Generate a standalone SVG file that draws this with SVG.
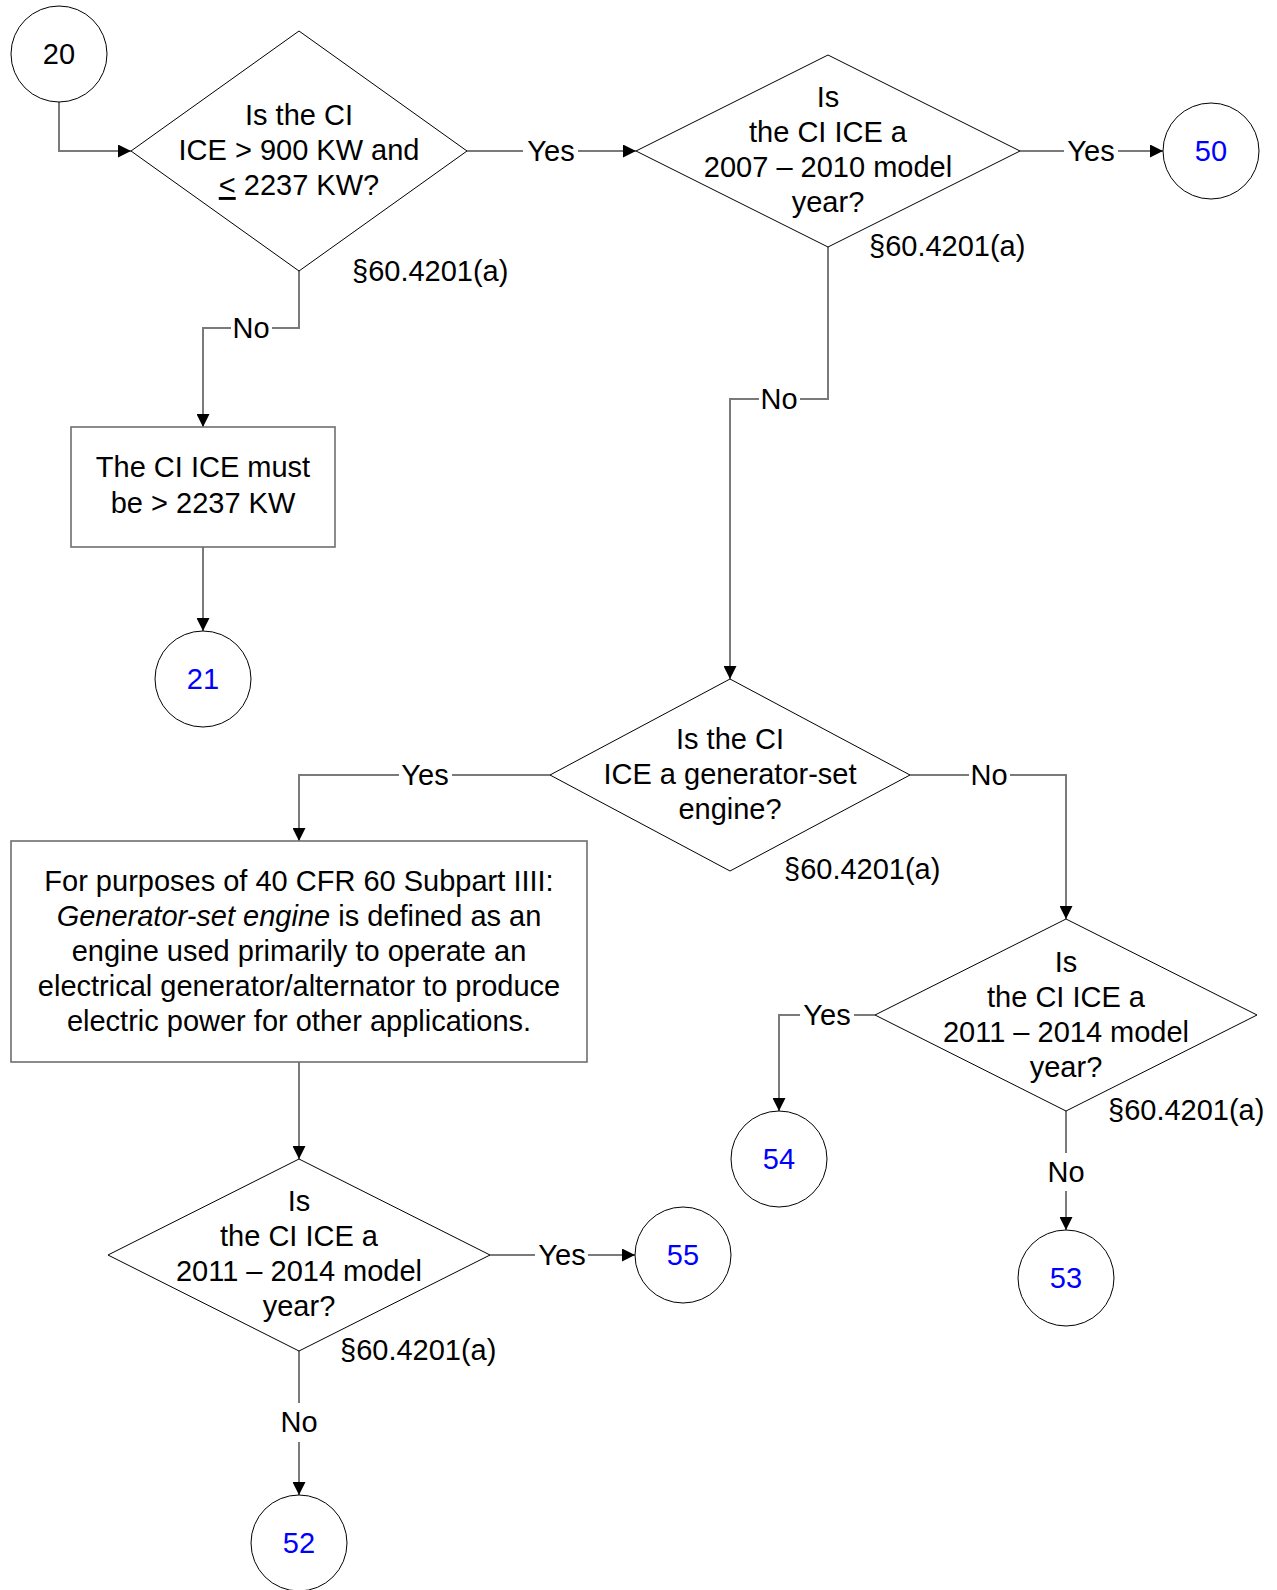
<svg xmlns="http://www.w3.org/2000/svg" width="1277" height="1590" viewBox="0 0 1277 1590">
<defs>
<style>
text{font-family:"Liberation Sans",Arial,sans-serif;font-size:29px;fill:#000;text-anchor:middle}
.ref{text-anchor:start}
.blue{fill:#0000ff}
.dia{fill:#fff;stroke:#000;stroke-width:1}
.box{fill:#fff;stroke:#6e6e6e;stroke-width:1.6}
.circ{fill:#fff;stroke:#000;stroke-width:1}
.con{fill:none;stroke:#7a7a7a;stroke-width:2}
</style>
<marker id="ah" markerUnits="userSpaceOnUse" markerWidth="14" markerHeight="13" refX="13" refY="6.5" orient="auto">
<path d="M0,0 L13,6.5 L0,13 z" fill="#000"/>
</marker>
</defs>
<rect width="1277" height="1590" fill="#fff"/>
<g id="connectors">
<path class="con" d="M59,102 V151 H131" marker-end="url(#ah)"/>
<path class="con" d="M467,151 H523"/>
<path class="con" d="M578,151 H636" marker-end="url(#ah)"/>
<text x="551" y="161">Yes</text>
<path class="con" d="M1020,151 H1064"/>
<path class="con" d="M1118,151 H1163" marker-end="url(#ah)"/>
<text x="1091" y="161">Yes</text>
<path class="con" d="M299,271 V328 H272"/>
<path class="con" d="M231,328 H203 V427" marker-end="url(#ah)"/>
<text x="251" y="338">No</text>
<path class="con" d="M203,547 V631" marker-end="url(#ah)"/>
<path class="con" d="M828,247 V399 H800"/>
<path class="con" d="M759,399 H730 V679" marker-end="url(#ah)"/>
<text x="779" y="409">No</text>
<path class="con" d="M550,775 H452"/>
<path class="con" d="M399,775 H299 V841" marker-end="url(#ah)"/>
<text x="425" y="785">Yes</text>
<path class="con" d="M910,775 H969"/>
<path class="con" d="M1010,775 H1066 V919" marker-end="url(#ah)"/>
<text x="989" y="785">No</text>
<path class="con" d="M875,1015 H854"/>
<path class="con" d="M800,1015 H779 V1111" marker-end="url(#ah)"/>
<text x="827" y="1025">Yes</text>
<path class="con" d="M1066,1111 V1153"/>
<path class="con" d="M1066,1191 V1230" marker-end="url(#ah)"/>
<text x="1066" y="1182">No</text>
<path class="con" d="M299,1062 V1159" marker-end="url(#ah)"/>
<path class="con" d="M490,1255 H535"/>
<path class="con" d="M588,1255 H635" marker-end="url(#ah)"/>
<text x="562" y="1265">Yes</text>
<path class="con" d="M299,1351 V1403"/>
<path class="con" d="M299,1442 V1495" marker-end="url(#ah)"/>
<text x="299" y="1432">No</text>
</g>
<g id="n20">
<circle class="circ" cx="59" cy="54" r="48"/>
<text x="59" y="64">20</text>
</g>
<g id="d1">
<polygon class="dia" points="299,31 467,151 299,271 131,151"/>
<text x="299" y="125">Is the CI</text>
<text x="299" y="160">ICE &gt; 900 KW and</text>
<text x="299" y="195"><tspan text-decoration="underline">&lt;</tspan> 2237 KW?</text>
<text class="ref" x="352" y="281">§60.4201(a)</text>
</g>
<g id="d2">
<polygon class="dia" points="828,55 1020,151 828,247 636,151"/>
<text x="828" y="107">Is</text>
<text x="828" y="142">the CI ICE a</text>
<text x="828" y="177">2007 – 2010 model</text>
<text x="828" y="212">year?</text>
<text class="ref" x="869" y="256">§60.4201(a)</text>
</g>
<g id="n50">
<circle class="circ" cx="1211" cy="151" r="48"/>
<text class="blue" x="1211" y="161">50</text>
</g>
<g id="b1">
<rect class="box" x="71" y="427" width="264" height="120"/>
<text x="203" y="477">The CI ICE must</text>
<text x="203" y="513">be &gt; 2237 KW</text>
</g>
<g id="n21">
<circle class="circ" cx="203" cy="679" r="48"/>
<text class="blue" x="203" y="689">21</text>
</g>
<g id="d3">
<polygon class="dia" points="730,679 910,775 730,871 550,775"/>
<text x="730" y="749">Is the CI</text>
<text x="730" y="784">ICE a generator-set</text>
<text x="730" y="819">engine?</text>
<text class="ref" x="784" y="879">§60.4201(a)</text>
</g>
<g id="b2">
<rect class="box" x="11" y="841" width="576" height="221"/>
<text x="299" y="891">For purposes of 40 CFR 60 Subpart IIII:</text>
<text x="299" y="926"><tspan font-style="italic">Generator-set engine</tspan> is defined as an</text>
<text x="299" y="961">engine used primarily to operate an</text>
<text x="299" y="996">electrical generator/alternator to produce</text>
<text x="299" y="1031">electric power for other applications.</text>
</g>
<g id="d4">
<polygon class="dia" points="1066,919 1257,1015 1066,1111 875,1015"/>
<text x="1066" y="972">Is</text>
<text x="1066" y="1007">the CI ICE a</text>
<text x="1066" y="1042">2011 – 2014 model</text>
<text x="1066" y="1077">year?</text>
<text class="ref" x="1108" y="1120">§60.4201(a)</text>
</g>
<g id="n54">
<circle class="circ" cx="779" cy="1159" r="48"/>
<text class="blue" x="779" y="1169">54</text>
</g>
<g id="n53">
<circle class="circ" cx="1066" cy="1278" r="48"/>
<text class="blue" x="1066" y="1288">53</text>
</g>
<g id="d5">
<polygon class="dia" points="299,1159 490,1255 299,1351 108,1255"/>
<text x="299" y="1211">Is</text>
<text x="299" y="1246">the CI ICE a</text>
<text x="299" y="1281">2011 – 2014 model</text>
<text x="299" y="1316">year?</text>
<text class="ref" x="340" y="1360">§60.4201(a)</text>
</g>
<g id="n55">
<circle class="circ" cx="683" cy="1255" r="48"/>
<text class="blue" x="683" y="1265">55</text>
</g>
<g id="n52">
<circle class="circ" cx="299" cy="1543" r="48"/>
<text class="blue" x="299" y="1553">52</text>
</g>
</svg>
